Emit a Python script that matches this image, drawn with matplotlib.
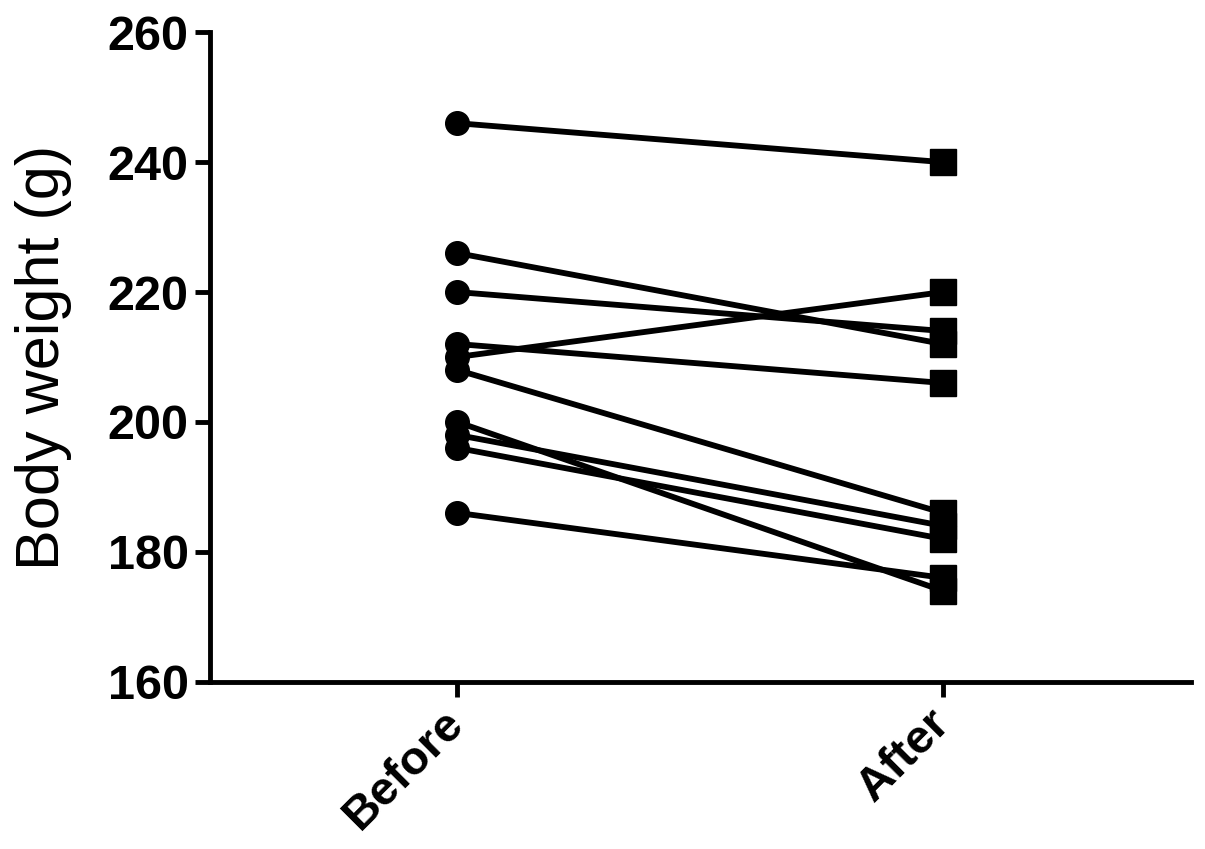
import numpy as np
import matplotlib.pyplot as plt

""" Body weight per animal, before and after """

groups = ['Before', 'After']
before = [246, 226, 220, 210, 212, 208, 200, 198, 196, 186]
after = [240, 212, 214, 220, 206, 186, 174, 184, 182, 176]
yTicks = [160, 180, 200, 220, 240, 260]

plt.rcParams['font.family'] = ['Liberation Sans', 'DejaVu Sans']

fig = plt.figure(figsize=(12.05, 8.49), dpi=100)
ax = fig.add_axes([0.174, 0.197, 0.814, 0.765])

xPos = np.arange(len(groups))
for b, a in zip(before, after):
    ax.plot(xPos, [b, a], color='black', linewidth=4.2, zorder=2)
ax.plot(np.zeros(len(before)), before, 'o', color='black', markersize=17, zorder=3)
ax.plot(np.ones(len(after)), after, 's', color='black', markersize=19, zorder=3)

ax.set_xlim(-0.51, 1.51)
ax.set_ylim(160, 260)
ax.set_yticks(yTicks)
ax.set_yticklabels([str(v) for v in yTicks], fontsize=35, fontweight='bold')
ax.set_xticks(xPos)
ax.set_xticklabels(groups, fontsize=34, fontweight='bold', rotation=45,
                   ha='right', va='center', rotation_mode='anchor')
ax.set_ylabel('Body weight (g)', fontsize=44, labelpad=26)

for side in ['top', 'right']:
    ax.spines[side].set_visible(False)
for side in ['left', 'bottom']:
    ax.spines[side].set_linewidth(3.5)
ax.tick_params(axis='both', direction='out', length=11, width=3.5, pad=4)
ax.tick_params(axis='x', pad=14)

plt.savefig('out.png', dpi=100)
